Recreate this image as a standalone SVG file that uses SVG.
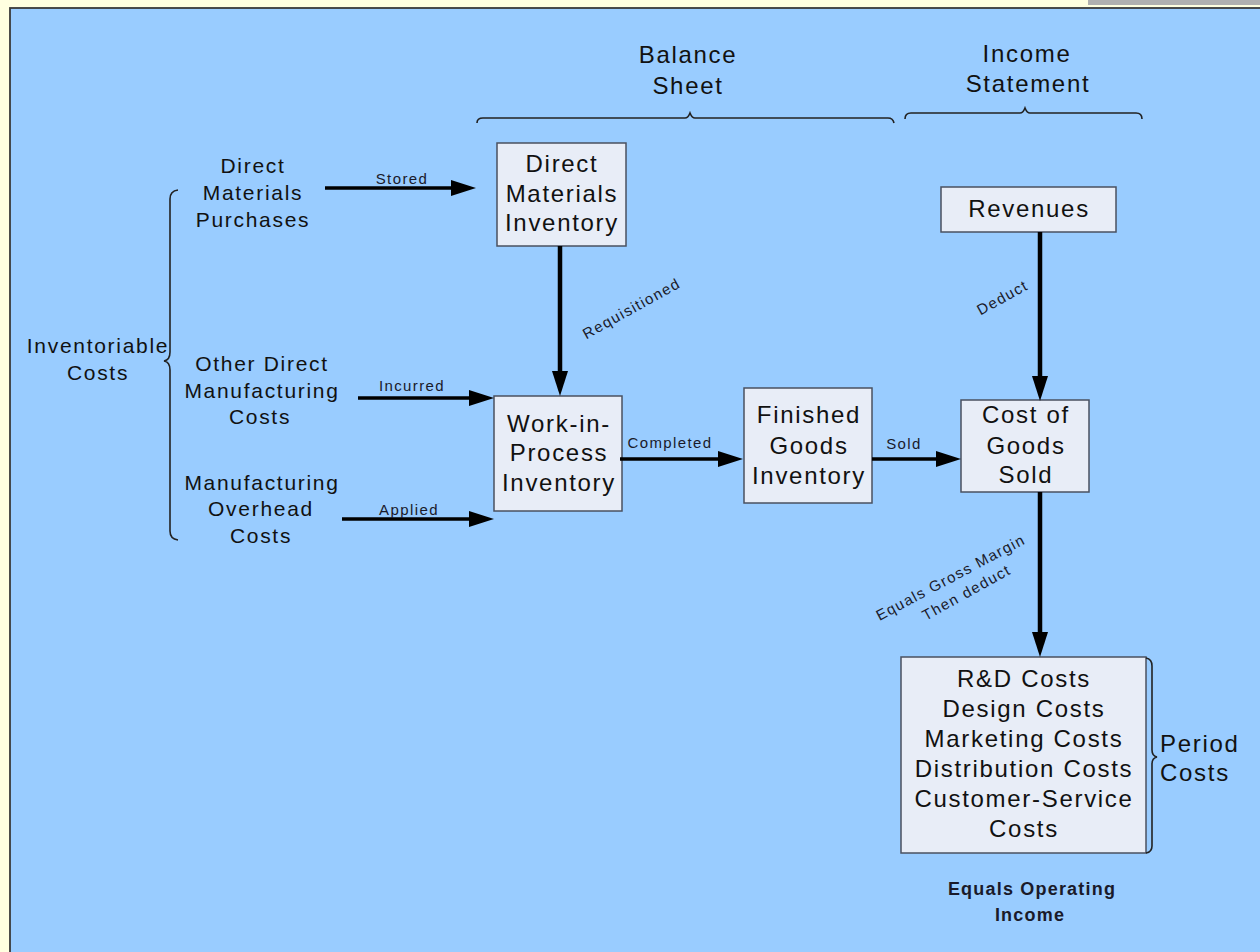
<svg xmlns="http://www.w3.org/2000/svg" width="1260" height="952" viewBox="0 0 1260 952">
<defs>
<style>
.box{fill:#E8EDF7;stroke:#4A5060;stroke-width:1.5}
.bt{font-family:"Liberation Sans",Arial,sans-serif;font-size:24px;letter-spacing:1.7px;fill:#111;text-anchor:middle}
.lt{font-family:"Liberation Sans",Arial,sans-serif;font-size:21px;letter-spacing:1.7px;fill:#111;text-anchor:middle}
.st{font-family:"Liberation Sans",Arial,sans-serif;font-size:15px;letter-spacing:1.4px;fill:#1a1a2a;text-anchor:middle}
.et{font-family:"Liberation Sans",Arial,sans-serif;font-size:18px;font-weight:bold;letter-spacing:1.2px;fill:#1a1a2a;text-anchor:middle}
.br{fill:none;stroke:#222;stroke-width:1.6}
.cn{fill:none;stroke:#000;stroke-width:3.5}
.cv{fill:none;stroke:#000;stroke-width:4.5}
</style>
<marker id="ah" markerUnits="userSpaceOnUse" markerWidth="26" markerHeight="20" refX="12" refY="10" orient="auto">
<path d="M0,2 L25,10 L0,18 z" fill="#000"/>
</marker>
</defs>
<rect x="0" y="0" width="1260" height="952" fill="#FFFFE0"/>
<rect x="1088" y="0" width="172" height="5" fill="#B0B0B0"/>
<rect x="10" y="8" width="1252" height="946" fill="#99CCFF" stroke="#3a3a3a" stroke-width="1.8"/>

<g id="headers">
<text class="bt" x="688" y="63">Balance</text>
<text class="bt" x="688" y="94">Sheet</text>
<text class="bt" x="1027" y="62">Income</text>
<text class="bt" x="1028" y="92">Statement</text>
<path class="br" d="M477,123 Q477,118 483,118 L685,118 Q688,118 690,113 Q692,118 695,118 L888,118 Q893,118 894,123"/>
<path class="br" d="M905,119 Q905,113 911,113 L1020,113 Q1023,113 1025,108 Q1027,113 1030,113 L1136,113 Q1142,113 1142,119"/>
</g>

<g id="inventoriable-costs">
<text class="lt" x="98" y="353">Inventoriable</text>
<text class="lt" x="98" y="380">Costs</text>
<path class="br" d="M178,190 Q170,191 170,199 L170,352 Q170,360 164,361 Q170,362 170,370 L170,531 Q170,539 178,540"/>
</g>

<g id="dm-purchases">
<text class="lt" x="253" y="173">Direct</text>
<text class="lt" x="253" y="200">Materials</text>
<text class="lt" x="253" y="227">Purchases</text>
</g>

<g id="other-direct">
<text class="lt" x="262" y="371">Other Direct</text>
<text class="lt" x="262" y="398">Manufacturing</text>
<text class="lt" x="260" y="424">Costs</text>
</g>

<g id="mfg-overhead">
<text class="lt" x="262" y="490">Manufacturing</text>
<text class="lt" x="261" y="516">Overhead</text>
<text class="lt" x="261" y="543">Costs</text>
</g>

<g id="dm-inventory">
<rect class="box" x="497" y="143" width="129" height="103"/>
<text class="bt" x="562" y="172">Direct</text>
<text class="bt" x="562" y="202">Materials</text>
<text class="bt" x="562" y="231">Inventory</text>
</g>

<g id="wip-inventory">
<rect class="box" x="494" y="396" width="128" height="115"/>
<text class="bt" x="559" y="432">Work-in-</text>
<text class="bt" x="559" y="461">Process</text>
<text class="bt" x="559" y="491">Inventory</text>
</g>

<g id="fg-inventory">
<rect class="box" x="744" y="388" width="128" height="115"/>
<text class="bt" x="809" y="423">Finished</text>
<text class="bt" x="809" y="454">Goods</text>
<text class="bt" x="809" y="484">Inventory</text>
</g>

<g id="revenues">
<rect class="box" x="941" y="187" width="175" height="45"/>
<text class="bt" x="1029" y="217">Revenues</text>
</g>

<g id="cogs">
<rect class="box" x="961" y="400" width="128" height="92"/>
<text class="bt" x="1026" y="423">Cost of</text>
<text class="bt" x="1026" y="454">Goods</text>
<text class="bt" x="1026" y="483">Sold</text>
</g>

<g id="period-costs">
<rect class="box" x="901" y="657" width="245" height="196"/>
<text class="bt" x="1024" y="687">R&amp;D Costs</text>
<text class="bt" x="1024" y="717">Design Costs</text>
<text class="bt" x="1024" y="747">Marketing Costs</text>
<text class="bt" x="1024" y="777">Distribution Costs</text>
<text class="bt" x="1024" y="807">Customer-Service</text>
<text class="bt" x="1024" y="837">Costs</text>
<path class="br" d="M1146,658 Q1152,659 1152,666 L1152,750 Q1152,756 1157,757 Q1152,758 1152,764 L1152,846 Q1152,852 1146,853"/>
<text class="bt" x="1160" y="752" style="text-anchor:start">Period</text>
<text class="bt" x="1160" y="781" style="text-anchor:start">Costs</text>
</g>

<g id="operating-income">
<text class="et" x="1032" y="895">Equals Operating</text>
<text class="et" x="1030" y="921">Income</text>
</g>

<g id="connectors">
<line class="cn" x1="325" y1="188" x2="463" y2="188" marker-end="url(#ah)"/>
<text class="st" x="402" y="184">Stored</text>
<line class="cn" x1="358" y1="398" x2="481" y2="398" marker-end="url(#ah)"/>
<text class="st" x="412" y="391">Incurred</text>
<line class="cn" x1="342" y1="519" x2="481" y2="519" marker-end="url(#ah)"/>
<text class="st" x="409" y="515">Applied</text>
<line class="cv" x1="560" y1="246" x2="560" y2="383" marker-end="url(#ah)"/>
<text class="st" transform="translate(634,313) rotate(-29)" x="0" y="0">Requisitioned</text>
<line class="cn" x1="620" y1="459" x2="730" y2="459" marker-end="url(#ah)"/>
<text class="st" x="670" y="448">Completed</text>
<line class="cn" x1="872" y1="459" x2="948" y2="459" marker-end="url(#ah)"/>
<text class="st" x="904" y="449">Sold</text>
<line class="cv" x1="1040" y1="232" x2="1040" y2="388" marker-end="url(#ah)"/>
<text class="st" transform="translate(1005,302) rotate(-29)" x="0" y="0">Deduct</text>
<line class="cv" x1="1040" y1="492" x2="1040" y2="644" marker-end="url(#ah)"/>
<text class="st" transform="translate(953,582) rotate(-28)" x="0" y="0">Equals Gross Margin</text>
<text class="st" transform="translate(969,597) rotate(-29)" x="0" y="0">Then deduct</text>
</g>
</svg>
